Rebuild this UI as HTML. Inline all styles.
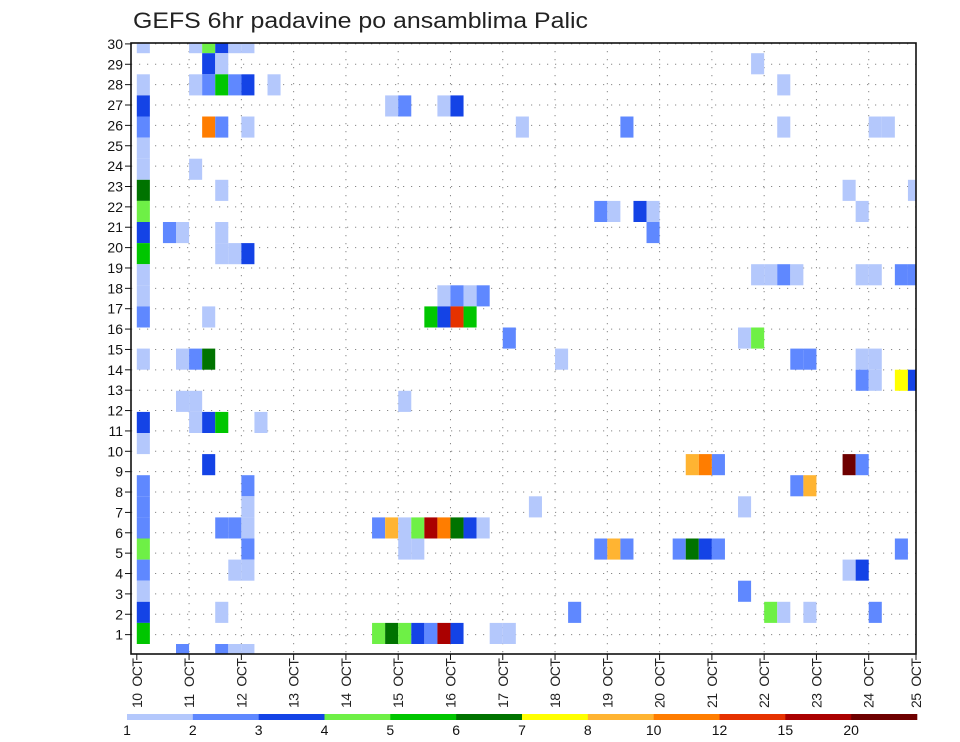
<!DOCTYPE html>
<html><head><meta charset="utf-8"><style>
html,body{margin:0;padding:0;background:#fff;}
svg{display:block;font-family:"Liberation Sans",sans-serif;}
</style></head><body>
<svg id="chart" width="960" height="742" viewBox="0 0 960 742" xmlns="http://www.w3.org/2000/svg">
<defs><clipPath id="plotclip"><rect x="131" y="43" width="785" height="611"/></clipPath></defs>
<rect x="0" y="0" width="960" height="742" fill="#fff"/>
<text x="133" y="28" font-size="22" fill="#222" textLength="455" lengthAdjust="spacingAndGlyphs">GEFS 6hr padavine po ansamblima Palic</text>
<g id="grid"></g>
<g id="cells" clip-path="url(#plotclip)"></g>
<rect x="131" y="43" width="785" height="611" fill="none" stroke="#111" stroke-width="1.6"/>
<g id="yaxis"></g>
<g id="xaxis"></g>
<g id="legend"></g>
</svg>
<script>
// ---- data ----
const memberRows = [28,28,28,28,28,28, 27,27,27, 26,26,26,26,26,26,26,26, 25,25,25,25,25, 24,24,24,24,24,24,24,24,24, 23, 22,22, 21,21,21,21, 20,20,20,20,20,20, 19,19,19,19,19, 18,18,18,18, 17,17,17,17,17,17,17,17,17, 16,16,16,16,16, 15,15,15,15,15,15, 14,14,14, 13,13,13,13,13,13,13,13,13, 12,12,12,12, 11,11,11, 10,10,10,10,10, 9, 8,8,8,8,8,8, 7,7,7,7, 6,6,6,6, 5,5,5,5,5,5,5,5,5,5,5,5,5, 4,4,4,4,4,4,4,4,4,4,4,4, 3,3,3,3,3, 2,2, 1,1,1,1,1,1,1, 0,0,0,0,0,0,0,0,0,0, -1,-1,-1,-1];
const timeSteps = [0,4,5,6,7,8, 5,6,47, 0,4,5,6,7,8,10,49, 0,19,20,23,24, 0,5,6,8,29,37,49,56,57, 0, 0,4, 0,6,54,59, 0,35,36,38,39,55, 0,2,3,6,39, 0,6,7,8, 0,47,48,49,50,55,56,58,59, 0,23,24,25,26, 0,5,22,23,24,25, 28,46,47, 0,3,4,5,32,50,51,55,56, 55,56,58,59, 3,4,20, 0,4,5,6,9, 0, 5,42,43,44,54,55, 0,8,50,51, 0,8,30,46, 0,6,7,8,18,19,20,21,22,23,24,25,26, 0,8,20,21,35,36,37,41,42,43,44,58, 0,7,8,54,55, 0,46, 0,6,33,48,49,51,56, 0,18,19,20,21,22,23,24,27,28, 3,6,7,8];
const precipValues = [1.5,1.5,4.5,3.5,1.5,1.5, 3.5,1.5,1.5, 1.5,1.5,2.5,5.5,2.5,3.5,1.5,1.5, 3.5,1.5,2.5,1.5,3.5, 2.5,11,2.5,1.5,1.5,2.5,1.5,1.5,1.5, 1.5, 1.5,1.5, 6.5,1.5,1.5,1.5, 4.5,2.5,1.5,3.5,1.5,1.5, 3.5,2.5,1.5,1.5,2.5, 5.5,1.5,1.5,3.5, 1.5,1.5,1.5,2.5,1.5,1.5,1.5,2.5,2.5, 1.5,1.5,2.5,1.5,2.5, 2.5,1.5,5.5,3.5,13,5.5, 2.5,1.5,4.5, 1.5,1.5,2.5,6.5,1.5,2.5,2.5,1.5,1.5, 2.5,1.5,7.5,3.5, 1.5,1.5,1.5, 3.5,1.5,3.5,5.5,1.5, 1.5, 3.5,9,11,2.5,22,2.5, 2.5,2.5,2.5,9, 2.5,1.5,1.5,1.5, 2.5,2.5,2.5,1.5,2.5,9,1.5,4.5,17,11,6.5,3.5,1.5, 4.5,2.5,1.5,1.5,2.5,9,2.5,2.5,6.5,3.5,2.5,2.5, 2.5,1.5,1.5,1.5,3.5, 1.5,2.5, 3.5,1.5,2.5,4.5,1.5,1.5,2.5, 5.5,4.5,6.5,4.5,3.5,2.5,17,3.5,1.5,1.5, 2.5,2.5,1.5,1.5];
const levelBreaks = [1,2,3,4,5,6,7,8,10,12,15,20];
const levelColors = ["#b4c8fc","#5f88ff","#1443e6","#6ef046","#00c600","#007300","#ffff00","#ffb432","#ff7d00","#e63200","#aa0000","#6e0000"];
const yTickLabels = [1,2,3,4,5,6,7,8,9,10,11,12,13,14,15,16,17,18,19,20,21,22,23,24,25,26,27,28,29,30];
const dayLabels = ["10","11","12","13","14","15","16","17","18","19","20","21","22","23","24","25"];

// ---- scales ----
const NS="http://www.w3.org/2000/svg";
const cellW=13.07, x0=136.8, cellH=21.1, yBase=644;
const plotL=131, plotR=916, plotT=43, plotB=654;
function xStep(k){return x0+k*cellW;}
function yMember(j){return yBase-(j+1)*cellH;}
function yTick(v){return 655-20.37*v;}
function xDay(d){return Math.min(x0+d*4*cellW, plotR);}
function colorFor(v){let c=null;for(let i=0;i<levelBreaks.length;i++){if(v>=levelBreaks[i])c=levelColors[i];}return c;}
function mk(tag,attrs,parent){const e=document.createElementNS(NS,tag);for(const a in attrs)e.setAttribute(a,attrs[a]);parent.appendChild(e);return e;}

// grid
const grid=document.getElementById('grid');
for(let i=0;i<yTickLabels.length;i++){
  const y=yTick(yTickLabels[i]);
  const l=mk('line',{x1:plotL,x2:plotR,y1:y,y2:y,stroke:'#888','stroke-width':1,'stroke-dasharray':'1.2,6.8'},grid);
  
  
}
for(let d=1;d<dayLabels.length-1;d++){
  const x=xDay(d);
  const l=mk('line',{x1:x,x2:x,y1:plotT,y2:plotB,stroke:'#888','stroke-width':1,'stroke-dasharray':'1.2,6.8'},grid);
  
  
}
// cells
const cells=document.getElementById('cells');
for(let i=0;i<precipValues.length;i++){
  const r=mk('rect',{x:xStep(timeSteps[i]),y:yMember(memberRows[i]),width:cellW,height:cellH,fill:colorFor(precipValues[i])},cells);
  
  
}
// y axis
const ya=document.getElementById('yaxis');
for(let i=0;i<yTickLabels.length;i++){
  const y=yTick(yTickLabels[i]);
  mk('line',{x1:125,x2:plotL,y1:y,y2:y,stroke:'#111','stroke-width':1},ya);
  const t=mk('text',{x:123,y:y+5,'font-size':14,'text-anchor':'end',fill:'#111'},ya);
  t.textContent=yTickLabels[i];
  
  
}
// x axis
const xa=document.getElementById('xaxis');
for(let d=0;d<dayLabels.length;d++){
  const x=xDay(d);
  mk('line',{x1:x,x2:x,y1:plotB,y2:plotB+6,stroke:'#111','stroke-width':1},xa);
  const t=mk('text',{x:0,y:0,'font-size':14,'text-anchor':'end',fill:'#222',textLength:50,lengthAdjust:'spacing',transform:'translate('+(x+5)+',658) rotate(-90)'},xa);
  t.textContent=dayLabels[d]+'\u00a0\u00a0OCT';
  
  
}
// legend
const lg=document.getElementById('legend');
const lx0=127, lx1=917, segW=(lx1-lx0)/levelColors.length;
for(let i=0;i<levelColors.length;i++){
  const r=mk('rect',{x:lx0+i*segW,y:714,width:segW+0.3,height:6,fill:levelColors[i]},lg);
  
  
  const t=mk('text',{x:lx0+i*segW,y:735,'font-size':14,'text-anchor':'middle',fill:'#111'},lg);
  t.textContent=levelBreaks[i];
  
  
}
</script>
</body></html>
